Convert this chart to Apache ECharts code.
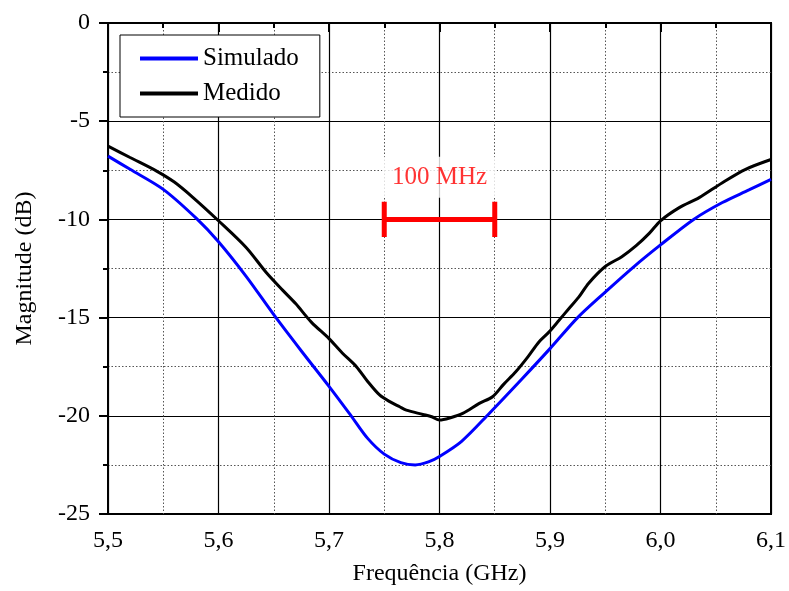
<!DOCTYPE html>
<html>
<head>
<meta charset="utf-8">
<script src="https://cdn.jsdelivr.net/npm/echarts@6/dist/echarts.min.js"></script>
<style>
  html, body { margin: 0; padding: 0; background: #fff; }
  #chart { width: 789px; height: 591px; }
</style>
</head>
<body>
<div id="chart"></div>
<script>
// 仿真曲线 (Simulado)
const freqSim = [5.500, 5.520, 5.550, 5.580, 5.600, 5.625, 5.650, 5.675, 5.700, 5.720, 5.735, 5.750, 5.765, 5.778, 5.790, 5.800, 5.820, 5.845, 5.875, 5.900, 5.925, 5.950, 5.975, 6.000, 6.030, 6.056, 6.080, 6.100];
const magSim  = [-6.78, -7.45, -8.47, -9.95, -11.14, -12.9, -14.85, -16.7, -18.5, -20.0, -21.15, -21.95, -22.38, -22.5, -22.35, -22.07, -21.3, -19.88, -18.1, -16.58, -15.0, -13.7, -12.45, -11.3, -10.0, -9.14, -8.5, -7.96];
// 测量曲线 (Medido)
const freqMed = [5.500, 5.520, 5.544, 5.560, 5.577, 5.600, 5.625, 5.643, 5.658, 5.670, 5.684, 5.700, 5.712, 5.725, 5.735, 5.746, 5.755, 5.764, 5.770, 5.785, 5.793, 5.800, 5.810, 5.821, 5.836, 5.848, 5.858, 5.869, 5.880, 5.890, 5.899, 5.908, 5.917, 5.926, 5.935, 5.950, 5.965, 5.978, 5.990, 6.000, 6.017, 6.035, 6.056, 6.077, 6.100];
const magMed  = [-6.27, -6.85, -7.54, -8.1, -8.89, -10.07, -11.43, -12.69, -13.6, -14.3, -15.23, -16.07, -16.8, -17.51, -18.25, -18.95, -19.28, -19.54, -19.71, -19.93, -20.05, -20.22, -20.1, -19.88, -19.37, -19.03, -18.4, -17.76, -17.0, -16.24, -15.74, -15.15, -14.55, -13.96, -13.25, -12.4, -11.9, -11.34, -10.7, -10.07, -9.4, -8.89, -8.13, -7.45, -6.95];
// 100 MHz 标注
const bandFreq = [5.75, 5.85];
const bandLevel = -10;
const capHalf = 0.9;
const bandLabel = '100 MHz';
const bandLabelLevel = -7.85;

const seriesNames = ['Simulado', 'Medido'];
const xTicks = { min: 5.5, max: 6.1, interval: 0.1 };
const yTicks = { min: -25, max: 0, interval: 5 };

const zip = (xs, ys) => xs.map((x, i) => [x, ys[i]]);
const font = 'Liberation Serif';

const myChart = echarts.init(document.getElementById('chart'));

myChart.setOption({
  animation: false,
  backgroundColor: '#fff',
  grid: {
    left: 108, right: 17, top: 23, bottom: 75,
    show: true, borderColor: '#000', borderWidth: 2
  },
  legend: {
    left: 120, top: 35,
    orient: 'vertical',
    backgroundColor: '#fff',
    borderColor: '#000',
    borderWidth: 1,
    padding: [11, 21, 11, 20],
    itemGap: 10,
    itemWidth: 58,
    itemHeight: 4,
    icon: 'rect',
    textStyle: { fontFamily: font, fontSize: 25, color: '#000', lineHeight: 22 },
    data: seriesNames
  },
  xAxis: {
    type: 'value',
    min: xTicks.min, max: xTicks.max, interval: xTicks.interval,
    name: 'Frequência (GHz)',
    nameLocation: 'middle',
    nameGap: 48,
    nameTextStyle: { fontFamily: font, fontSize: 24, color: '#000' },
    axisLine: { lineStyle: { color: '#000', width: 2 } },
    axisTick: { length: 9, lineStyle: { color: '#000', width: 2 } },
    minorTick: { show: true, splitNumber: 2, length: 5, lineStyle: { color: '#000', width: 2 } },
    axisLabel: {
      fontFamily: font, fontSize: 24, color: '#000', margin: 15,
      formatter: v => v.toFixed(1).replace('.', ',')
    },
    splitLine: { show: true, lineStyle: { color: '#000', width: 1.2 } },
    minorSplitLine: { show: true, lineStyle: { color: '#555', width: 1, type: [1.5, 2] } }
  },
  yAxis: {
    type: 'value',
    min: yTicks.min, max: yTicks.max, interval: yTicks.interval,
    name: 'Magnitude (dB)',
    nameLocation: 'middle',
    nameGap: 71,
    nameTextStyle: { fontFamily: font, fontSize: 24, color: '#000' },
    axisLine: { lineStyle: { color: '#000', width: 2 } },
    axisTick: { length: 9, lineStyle: { color: '#000', width: 2 } },
    minorTick: { show: true, splitNumber: 2, length: 5, lineStyle: { color: '#000', width: 2 } },
    axisLabel: { fontFamily: font, fontSize: 24, color: '#000', margin: 18 },
    splitLine: { show: true, lineStyle: { color: '#000', width: 1.2 } },
    minorSplitLine: { show: true, lineStyle: { color: '#555', width: 1, type: [1.5, 2] } }
  },
  series: [
    {
      name: seriesNames[0],
      type: 'line',
      smooth: 0.3,
      symbol: 'none',
      lineStyle: { color: '#0000ff', width: 3 },
      itemStyle: { color: '#0000ff' },
      data: zip(freqSim, magSim),
      z: 3
    },
    {
      name: seriesNames[1],
      type: 'line',
      smooth: 0.3,
      symbol: 'none',
      lineStyle: { color: '#000', width: 3 },
      itemStyle: { color: '#000' },
      data: zip(freqMed, magMed),
      z: 4
    },
    {
      // 横线
      type: 'line',
      symbol: 'none',
      lineStyle: { color: '#ff0000', width: 5 },
      data: bandFreq.map(f => [f, bandLevel]),
      silent: true, z: 5
    },
    // 两端竖线
    ...bandFreq.map(f => ({
      type: 'line',
      symbol: 'none',
      lineStyle: { color: '#ff0000', width: 5 },
      data: [[f, bandLevel + capHalf], [f, bandLevel - capHalf]],
      silent: true, z: 5
    })),
    {
      // 文字标注
      type: 'scatter',
      symbolSize: 0,
      data: [[(bandFreq[0] + bandFreq[1]) / 2, bandLabelLevel]],
      label: {
        show: true,
        position: 'inside',
        formatter: bandLabel,
        fontFamily: font,
        fontSize: 25,
        color: '#ff0000',
        backgroundColor: '#fff',
        padding: [8, 10, 8, 10]
      },
      silent: true, z: 5
    }
  ]
});

window.onresize = function () {
  myChart.resize();
};
</script>
</body>
</html>
